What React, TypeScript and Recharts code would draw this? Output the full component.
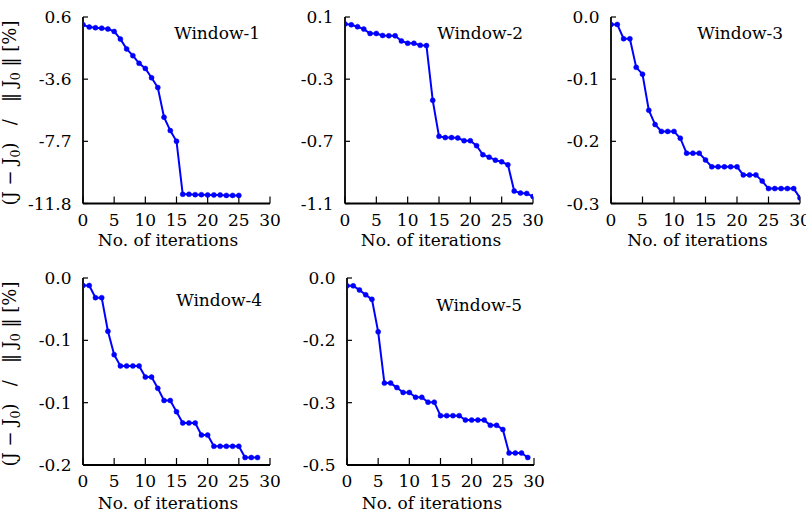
import React from 'react';
import { LineChart, Line, XAxis, YAxis } from 'recharts';

const FONT = '"DejaVu Serif", serif';
const BLUE = '#0000ff';
const FRAME = '#000000';

const xTicks = [0, 5, 10, 15, 20, 25, 30];

const window1Values = [0.09, -0.07, -0.11, -0.14, -0.2, -0.36, -0.87, -1.52, -1.97, -2.48, -2.82, -3.44, -4.09, -6.06, -6.95, -7.66, -11.19, -11.19, -11.21, -11.21, -11.23, -11.23, -11.23, -11.26, -11.26, -11.26];
const window2Values = [0.055, 0.05, 0.037, 0.022, -0.006, -0.006, -0.019, -0.021, -0.021, -0.054, -0.069, -0.069, -0.082, -0.084, -0.436, -0.668, -0.676, -0.676, -0.678, -0.696, -0.696, -0.728, -0.786, -0.802, -0.821, -0.832, -0.851, -1.02, -1.033, -1.035, -1.055];
const window3Values = [-0.012, -0.012, -0.035, -0.035, -0.081, -0.092, -0.15, -0.173, -0.184, -0.184, -0.184, -0.195, -0.219, -0.219, -0.219, -0.23, -0.241, -0.241, -0.241, -0.241, -0.241, -0.254, -0.254, -0.254, -0.264, -0.276, -0.276, -0.276, -0.276, -0.276, -0.291];
const window4Values = [-0.008, -0.008, -0.021, -0.021, -0.057, -0.082, -0.094, -0.094, -0.094, -0.094, -0.106, -0.106, -0.118, -0.131, -0.131, -0.143, -0.155, -0.155, -0.155, -0.168, -0.168, -0.18, -0.18, -0.18, -0.18, -0.18, -0.192, -0.192, -0.192];
const window5Values = [-0.021, -0.021, -0.032, -0.045, -0.057, -0.144, -0.281, -0.281, -0.293, -0.306, -0.306, -0.319, -0.319, -0.332, -0.332, -0.368, -0.368, -0.368, -0.368, -0.38, -0.38, -0.38, -0.38, -0.394, -0.394, -0.405, -0.468, -0.468, -0.468, -0.48];

const window1TickLabels = ['0.6', '-3.6', '-7.7', '-11.8'];
const window2TickLabels = ['0.1', '-0.3', '-0.7', '-1.1'];
const window3TickLabels = ['0.0', '-0.1', '-0.2', '-0.3'];
const window4TickLabels = ['0.0', '-0.1', '-0.1', '-0.2'];
const window5TickLabels = ['0.0', '-0.2', '-0.3', '-0.5'];

const window1Domain = [-11.8, 0.6];
const window2Domain = [-1.1, 0.1];
const window3Domain = [-0.3, 0.0];
const window4Domain = [-0.2, 0.0];
const window5Domain = [-0.5, 0.0];

const titles = ['Window-1', 'Window-2', 'Window-3', 'Window-4', 'Window-5'];
const xLabel = 'No. of iterations';

type Box = { left: number; top: number; width: number; height: number };

function Panel({ box, values, tickLabels, domain, title, titleRight, titleTop }: {
  box: Box; values: number[]; tickLabels: string[]; domain: number[]; title: string; titleRight: number; titleTop: number;
}) {
  const [lo, hi] = domain;
  const yTicks = tickLabels.map((_, k) => hi - (k * (hi - lo)) / 3);
  const data = values.map((v, i) => ({ iteration: i, value: v }));
  const fmt = (v: number) => {
    let best = 0;
    yTicks.forEach((t, k) => {
      if (Math.abs(t - v) < Math.abs(yTicks[best] - v)) best = k;
    });
    return tickLabels[best];
  };
  const ML = 60, MT = 10, MR = 18, XH = 45;
  const axisLine = { stroke: FRAME, strokeWidth: 1.8 };
  const tickLine = { stroke: FRAME, strokeWidth: 1.2 };
  const tick = { fill: '#000', fontSize: 17, fontFamily: FONT };
  return (
    <>
      <div style={{ position: 'absolute', left: box.left - ML, top: box.top - MT }}>
        <LineChart width={box.width + ML + MR} height={box.height + MT + XH} data={data}
          margin={{ top: MT, right: MR, bottom: 0, left: 0 }}>
          <XAxis xAxisId="b" dataKey="iteration" type="number" domain={[0, 30]} ticks={xTicks} interval={0}
            tickSize={-7} tickMargin={17} height={XH} allowDataOverflow
            axisLine={axisLine} tickLine={tickLine} tick={tick} />
          <XAxis xAxisId="t" orientation="top" dataKey="iteration" type="number" domain={[0, 30]}
            height={0} tick={false} tickLine={false} axisLine={axisLine} allowDataOverflow />
          <YAxis yAxisId="l" type="number" domain={[lo, hi]} ticks={yTicks} interval={0} width={ML}
            tickSize={-5} tickMargin={16.5} tickFormatter={fmt} allowDataOverflow
            axisLine={axisLine} tickLine={tickLine} tick={tick} />
          <YAxis yAxisId="r" orientation="right" type="number" domain={[lo, hi]} width={0}
            tick={false} tickLine={false} axisLine={axisLine} allowDataOverflow />
          <Line xAxisId="b" yAxisId="l" type="linear" dataKey="value" stroke={BLUE} strokeWidth={2}
            dot={{ r: 2.5, fill: BLUE, stroke: BLUE, strokeWidth: 0.5 }} isAnimationActive={false} />
        </LineChart>
      </div>
      <div style={{ position: 'absolute', left: titleRight - 160, top: titleTop - 2, width: 160, textAlign: 'right',
        fontFamily: FONT, fontSize: 17, lineHeight: '17px', color: '#000', whiteSpace: 'nowrap' }}>{title}</div>
    </>
  );
}

function XLabel({ cx, capTop }: { cx: number; capTop: number }) {
  return (
    <div style={{ position: 'absolute', left: cx - 100, top: capTop - 2, width: 200, textAlign: 'center',
      fontFamily: FONT, fontSize: 17, lineHeight: '17px', color: '#000', whiteSpace: 'nowrap' }}>{xLabel}</div>
  );
}

function YLabel({ cx, cy }: { cx: number; cy: number }) {
  const sub: React.CSSProperties = { fontSize: '0.7em', verticalAlign: '-0.3em', lineHeight: 0 };
  return (
    <div style={{ position: 'absolute', left: cx - 110, top: cy - 10, width: 220, height: 20, lineHeight: '20px',
      textAlign: 'center', transform: 'rotate(-90deg)', fontFamily: FONT, fontSize: 18, color: '#000', whiteSpace: 'nowrap' }}>
      (J − J<span style={sub}>0</span>)&nbsp;&nbsp;&nbsp;/&nbsp;&nbsp;&nbsp;‖ J<span style={sub}>0</span> ‖ [%]
    </div>
  );
}

export default function App() {
  const b1 = { left: 82.5, top: 16.5, width: 187, height: 186.5 };
  const b2 = { left: 345, top: 16.5, width: 188, height: 186.5 };
  const b3 = { left: 611, top: 16.5, width: 189, height: 186.5 };
  const b4 = { left: 82.5, top: 277.5, width: 187, height: 187 };
  const b5 = { left: 346.5, top: 277.5, width: 187, height: 187 };
  return (
    <div style={{ position: 'absolute', left: 0, top: 0, width: 806, height: 515, overflow: 'hidden', background: '#fff' }}>
      <Panel box={b1} values={window1Values} tickLabels={window1TickLabels} domain={window1Domain} title={titles[0]} titleRight={260} titleTop={27} />
      <Panel box={b2} values={window2Values} tickLabels={window2TickLabels} domain={window2Domain} title={titles[1]} titleRight={523} titleTop={27} />
      <Panel box={b3} values={window3Values} tickLabels={window3TickLabels} domain={window3Domain} title={titles[2]} titleRight={783} titleTop={27} />
      <Panel box={b4} values={window4Values} tickLabels={window4TickLabels} domain={window4Domain} title={titles[3]} titleRight={262} titleTop={294} />
      <Panel box={b5} values={window5Values} tickLabels={window5TickLabels} domain={window5Domain} title={titles[4]} titleRight={522} titleTop={299} />
      <XLabel cx={b1.left + b1.width / 2 - 8} capTop={234} />
      <XLabel cx={b2.left + b2.width / 2 - 8} capTop={234} />
      <XLabel cx={b3.left + b3.width / 2 - 8} capTop={234} />
      <XLabel cx={b4.left + b4.width / 2 - 8} capTop={497} />
      <XLabel cx={b5.left + b5.width / 2 - 8} capTop={497} />
      <YLabel cx={10} cy={113} />
      <YLabel cx={10} cy={374} />
    </div>
  );
}
